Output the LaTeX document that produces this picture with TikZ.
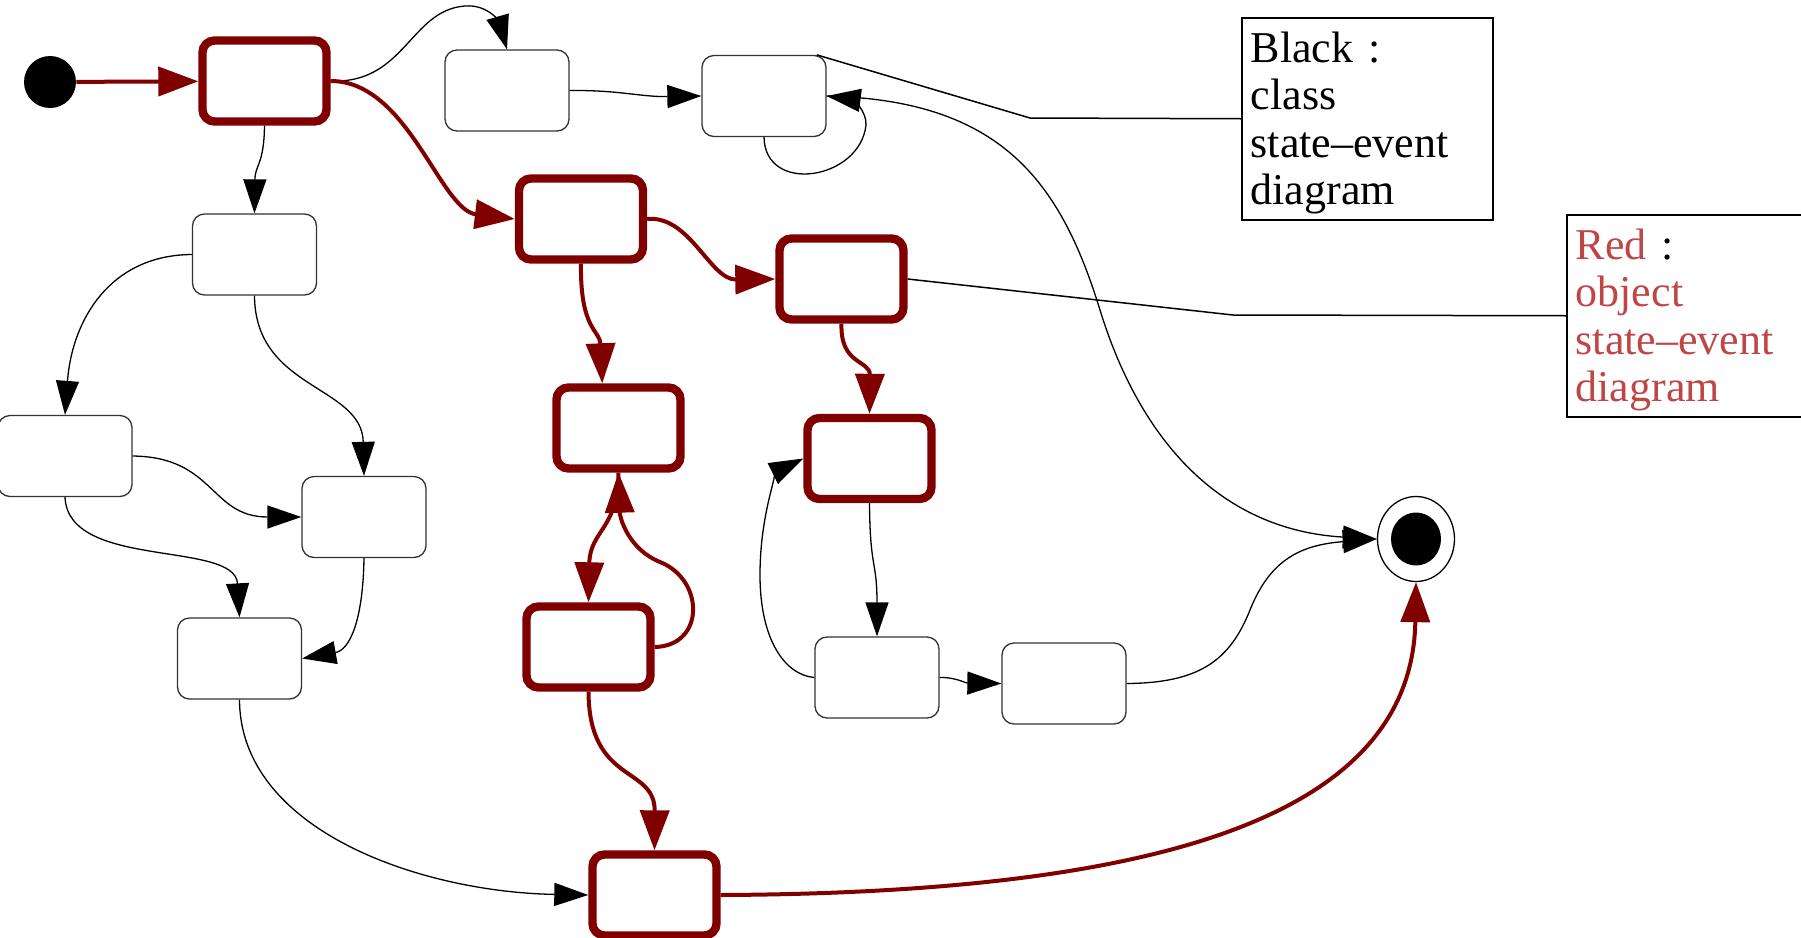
\documentclass[tikz,border=0pt]{standalone}
\usepackage{fontspec}
\setmainfont{Liberation Serif}
\usetikzlibrary{arrows.meta,shapes.geometric}
\definecolor{objred}{RGB}{128,0,0}
\definecolor{notered}{RGB}{190,70,70}
\tikzset{
  state/.style={draw=black!80, line width=0.65pt, rounded corners=6pt,
    minimum width=62pt, minimum height=40.5pt, inner sep=0pt},
  objstate/.style={state, draw=objred, line width=4.2pt},
  trans/.style={draw=black, line width=0.65pt, -{Triangle[length=17pt,width=11.5pt]}},
  objtrans/.style={draw=objred, line width=2pt, -{Triangle[length=20pt,width=14.5pt]}},
  note/.style={draw, line width=0.75pt, anchor=north west, align=left,
    text width=116.5pt, inner xsep=4.5pt, inner ysep=2.75pt,
    font=\fontsize{22pt}{23.75pt}\selectfont},
  noteline/.style={line width=0.75pt}
}
\begin{document}
\begin{tikzpicture}[x=0.5pt,y=-0.5pt]
  \useasboundingbox (0,0) rectangle (1801,938);
  \clip (0,0) rectangle (1801,938);
  \node[circle, fill, minimum size=26pt, inner sep=0pt] (init) at (50,82) {};
  \node[objstate] (s1) at (264.5,81) {};
  \node[state] (s2) at (507,90.5) {};
  \node[state] (s3) at (764,96) {};
  \node[state] (s4) at (254.5,254.5) {};
  \node[objstate] (s5) at (581,219) {};
  \node[objstate] (s6) at (841.5,279) {};
  \node[state, minimum width=67pt] (s7) at (65,456) {};
  \node[state] (s8) at (364,517) {};
  \node[state] (s9) at (239.5,658.5) {};
  \node[objstate] (s10) at (618.5,428) {};
  \node[objstate] (s11) at (588.5,647) {};
  \node[objstate] (s12) at (654.5,895) {};
  \node[objstate] (s13) at (869.5,458.5) {};
  \node[state] (s14) at (877,677.5) {};
  \node[state] (s15) at (1064,683.5) {};
  \node[ellipse, draw, line width=0.65pt, minimum width=38.5pt, minimum height=42.5pt, inner sep=0pt] (final) at (1416,539) {};
  \node[ellipse, fill, minimum width=25pt, minimum height=26.5pt, inner sep=0pt] (finaldot) at (final) {};
  \node[note] (classnote) at (1241,17) {\rule{0pt}{19.5pt}Black :\\class\\state–event\\diagram};
  \node[note, text=notered] (objnote) at (1566,214) {\rule{0pt}{19.5pt}Red \textcolor{black}{:}\\object\\state–event\\diagram};
  \coordinate (classbend) at (1030,118);
  \coordinate (objbend) at (1233,315);
  \draw[noteline] (s3.38) -- (classbend) -- (classnote.west);
  \draw[noteline] (s6.east) -- (objbend) -- (objnote.west);
  \draw[objtrans] (init) -- (s1);
  \draw[trans] (s1.east) .. controls (405,84) and (410,10) .. (465,6) .. controls (490,4) and (500,25) .. (s2.north);
  \draw[objtrans] (s1.east) .. controls (408,81) and (440,210) .. (s5.west);
  \draw[trans] (s1.south) .. controls (264,165) and (255,165) .. (s4.north);
  \draw[trans] (s2.east) .. controls (620,90) and (640,97) .. (s3.west);
  \draw[trans] (s3.south) .. controls (765,195) and (860,180) .. (866,125) .. controls (867,110) and (850,99) .. (s3.east);
  \draw[trans] (s3.east) .. controls (1000,100) and (1060,180) .. (1100,310) .. controls (1140,440) and (1220,530) .. (final.west);
  \draw[trans] (s15.east) .. controls (1200,683) and (1230,660) .. (1250,610) .. controls (1270,560) and (1300,545) .. (final.west);
  \draw[objtrans] (s5.east) .. controls (690,215) and (710,280) .. (s6.west);
  \draw[objtrans] (s5.south) .. controls (580,330) and (600,330) .. (s10.110);
  \draw[objtrans] (s6.south) .. controls (840,365) and (870,360) .. (s13.north);
  \draw[objtrans] (s10.south) .. controls (618,530) and (590,530) .. (s11.north);
  \draw[objtrans] (s11.east) .. controls (705,646) and (705,580) .. (660,562) .. controls (630,550) and (620,520) .. (s10.south);
  \draw[objtrans] (s11.south) .. controls (589,785) and (655,765) .. (s12.north);
  \draw[objtrans] (s12.east) .. controls (1150,893) and (1412,820) .. (final.south);
  \draw[trans] (s9.south) .. controls (240,830) and (420,892) .. (s12.west);
  \draw[trans] (s4.west) .. controls (110,255) and (72,320) .. (s7.north);
  \draw[trans] (s4.south) .. controls (255,390) and (362,385) .. (s8.north);
  \draw[trans] (s7.east) .. controls (215,457) and (210,517) .. (s8.west);
  \draw[trans] (s7.south) .. controls (68,570) and (235,540) .. (s9.north);
  \draw[trans] (s8.south) .. controls (363,620) and (350,650) .. (s9.east);
  \draw[trans] (s14.west) .. controls (785,675) and (760,640) .. (760,575) .. controls (760,510) and (780,470) .. (s13.west);
  \draw[trans] (s13.south) .. controls (870,570) and (877,560) .. (s14.north);
  \draw[trans] (s14.east) .. controls (955,677) and (965,683) .. (s15.west);
\end{tikzpicture}
\end{document}
